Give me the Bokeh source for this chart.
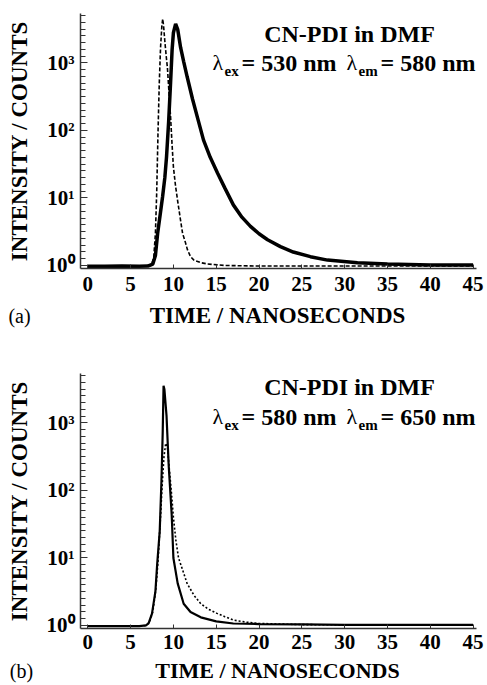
import math
from bokeh.plotting import figure
from bokeh.models import Range1d, FixedTicker, Label
from bokeh.layouts import column
from bokeh.embed import file_html
from bokeh.resources import INLINE

# ---------------- data ----------------
# Panel (a): emission decay (solid) and instrument response (dashed)
t_em_a = [0, 2, 4, 6, 7.0, 7.6, 7.9, 8.16, 8.45, 8.74, 9.0, 9.2, 9.44, 9.67, 9.85, 10.0,
          10.26, 10.5, 10.84, 11.2, 11.6, 12.24, 12.9, 13.52, 14.3, 15.15, 16.0, 17.0,
          18.0, 19.0, 20.0, 21.0, 22.5, 24.0, 26.0, 28.0, 31.5, 35.0, 40.0, 45.0]
counts_em_a = [0.97, 0.97, 0.98, 0.97, 0.98, 1.05, 1.4, 3.0, 5.6, 10.5, 20, 41, 132, 510, 1580, 2800,
               3800, 3160, 1700, 1050, 630, 290, 141, 72, 40, 23.4, 14.1, 7.9,
               5.2, 3.8, 2.95, 2.4, 1.9, 1.58, 1.35, 1.2, 1.1, 1.05, 1.02, 1.02]
t_irf_a = [0, 3, 6, 7.4, 7.7, 7.9, 8.05, 8.2, 8.35, 8.5, 8.65, 8.75, 8.85, 9.0, 9.15, 9.3,
           9.5, 9.67, 9.85, 10.0, 10.25, 10.5, 10.8, 11.07, 11.4, 11.65, 12.0, 12.4, 13.2,
           14, 16, 20, 25, 30, 35, 40, 45]
counts_irf_a = [0.97, 0.97, 0.97, 1.0, 1.3, 3.0, 12, 90, 500, 1700, 3500, 4500, 3600, 2100, 1300, 850,
                340, 160, 60, 29, 15, 9, 5, 3, 2.2, 1.7, 1.35, 1.2, 1.1,
                1.05, 1.0, 0.98, 0.98, 0.98, 0.98, 0.98, 0.98]

# Panel (b): instrument response (solid) and emission decay (dotted)
t_irf_b = [0, 3, 6, 6.8, 7.1, 7.5, 7.9, 8.1, 8.4, 8.6, 8.75, 8.85, 8.95, 9.2, 9.45, 9.8,
           10.0, 10.5, 11.2, 12.0, 13.2, 15, 17, 20, 25, 30, 35, 40, 45]
counts_irf_b = [0.98, 0.98, 0.98, 1.0, 1.07, 1.5, 3.2, 7.9, 24.5, 132, 708, 3550, 3160, 1260, 234, 44,
                10, 4.2, 2.1, 1.58, 1.32, 1.15, 1.07, 1.05, 1.04, 1.02, 1.02, 1.02, 1.02]
t_em_b = [0, 3, 6, 6.8, 7.2, 7.6, 7.95, 8.2, 8.45, 8.7, 8.9, 9.1, 9.3, 9.5, 9.75, 10.0,
          10.3, 10.6, 11.0, 11.6, 12.4, 13.2, 14.1, 15.1, 16, 17, 18.5, 20, 25, 30, 35, 40, 45]
counts_em_b = [0.98, 0.98, 0.98, 1.0, 1.12, 1.6, 3.5, 8.9, 32, 126, 316, 500, 450, 224, 100, 40,
               17.8, 10, 7.1, 4.2, 2.8, 2.1, 1.74, 1.51, 1.35, 1.2, 1.12, 1.07, 1.03, 1.02, 1.02, 1.02, 1.02]

x_ticks = [0, 5, 10, 15, 20, 25, 30, 35, 40, 45]
y_major = [1, 10, 100, 1000]
y_labels = ["10\u2070", "10\u00b9", "10\u00b2", "10\u00b3"]
x_label = "TIME / NANOSECONDS"
y_label = "INTENSITY / COUNTS"
title_line1 = "CN-PDI in DMF"
panel_a = {"tag": "(a)", "ex": "= 530 nm", "em": "= 580 nm"}
panel_b = {"tag": "(b)", "ex": "= 580 nm", "em": "= 650 nm"}

# ---------------- layout constants ----------------
W = 487
X0, X1 = -0.85, 45.4
LOG0, LOG1 = -0.045, 3.733
FRAME_W, FRAME_H = 396, 255
PX_PER_NS = FRAME_W / (X1 - X0)
PX_PER_DEC = FRAME_H / (LOG1 - LOG0)
FRAME_LEFT = 80
SERIF = "Liberation Serif"


def px2x(px):
    return X0 + (px - FRAME_LEFT) / PX_PER_NS


def px2y(py, frame_top):
    return 10 ** (LOG1 - (py - frame_top) / PX_PER_DEC)


def add_text(p, x, y, text, size, style="bold", angle=0.0, align="left", font=SERIF):
    p.add_layout(Label(x=x, y=y, text=text, text_font=font, text_font_size=f"{size}px",
                       text_font_style=style, angle=angle, text_align=align,
                       text_baseline="middle", text_color="black"))


def make_panel(height, border_top, frame_top, info, curves, xstandoff):
    border_bottom = height - border_top - FRAME_H
    p = figure(width=W, height=height, output_backend="svg", toolbar_location=None,
               y_axis_type="log", x_range=Range1d(X0, X1),
               y_range=Range1d(10 ** LOG0, 10 ** LOG1),
               min_border_left=FRAME_LEFT, min_border_right=W - FRAME_LEFT - FRAME_W,
               min_border_top=border_top, min_border_bottom=border_bottom)
    p.outline_line_color = None
    p.grid.visible = False

    xa = p.xaxis[0]
    xa.ticker = FixedTicker(ticks=x_ticks)
    xa.major_tick_in = 4
    xa.major_tick_out = 0
    xa.minor_tick_line_color = None
    xa.axis_line_color = "#333333"
    xa.axis_line_width = 1.5
    xa.major_tick_line_color = "#333333"
    xa.major_label_text_font = SERIF
    xa.major_label_text_font_style = "bold"
    xa.major_label_text_font_size = "21px"
    xa.major_label_text_color = "black"
    xa.major_label_standoff = xstandoff

    ya = p.yaxis[0]
    minor = [10 ** (k / 10) for k in range(-1, 38) if k % 10 != 0]
    ya.ticker = FixedTicker(ticks=y_major, minor_ticks=minor)
    ya.major_label_overrides = {float(v): s for v, s in zip(y_major, y_labels)}
    ya.major_tick_in = 7
    ya.major_tick_out = 0
    ya.minor_tick_in = 5
    ya.minor_tick_out = 0
    ya.axis_line_color = "#333333"
    ya.axis_line_width = 1.5
    ya.major_tick_line_color = "#333333"
    ya.minor_tick_line_color = "#333333"
    ya.major_label_text_font = SERIF
    ya.major_label_text_font_style = "bold"
    ya.major_label_text_font_size = "21px"
    ya.major_label_text_color = "black"
    ya.major_label_standoff = 6
    ya.axis_label = y_label
    ya.axis_label_text_font = SERIF
    ya.axis_label_text_font_style = "bold"
    ya.axis_label_text_font_size = "23px"
    ya.axis_label_text_color = "black"
    ya.axis_label_standoff = 12

    for (t, c, width, dash) in curves:
        p.line(t, c, line_color="black", line_width=width, line_dash=dash)

    # title inside the frame
    add_text(p, px2x(349), px2y(frame_top + info["t1"], frame_top), title_line1, 24, align="center")
    ym = frame_top + info["t2"]
    add_text(p, px2x(212), px2y(ym, frame_top), "\u03bb", 22, style="normal")
    add_text(p, px2x(224), px2y(ym + 8, frame_top), "ex", 15)
    add_text(p, px2x(241), px2y(ym, frame_top), info["ex"], 24)
    add_text(p, px2x(346), px2y(ym, frame_top), "\u03bb", 22, style="normal")
    add_text(p, px2x(358), px2y(ym + 8, frame_top), "em", 15)
    add_text(p, px2x(380), px2y(ym, frame_top), info["em"], 24)
    return p


def make_strip(height, y_from_top, tag, tag_x, size):
    s = figure(width=W, height=height, output_backend="svg", toolbar_location=None,
               x_range=Range1d(0, W), y_range=Range1d(0, height),
               x_axis_type=None, y_axis_type=None, min_border=0, frame_align=False)
    s.outline_line_color = None
    yc = height - y_from_top
    add_text(s, 277, yc, x_label, size, align="center")
    add_text(s, tag_x, yc, tag, 20, style="normal", align="center")
    return s


panel_a.update(t1=20.5, t2=49)
panel_b.update(t1=13.5, t2=43)

p1 = make_panel(300, 13, 13, panel_a,
                [(t_em_a, counts_em_a, 3.5, "solid"), (t_irf_a, counts_irf_a, 1.6, "4 2")], 8)
s1 = make_strip(30, 15, panel_a["tag"], 19, 23)
p2 = make_panel(328, 43, 373, panel_b,
                [(t_irf_b, counts_irf_b, 2.2, "solid"), (t_em_b, counts_em_b, 1.6, "2 2")], 6)
s2 = make_strip(27, 12, panel_b["tag"], 21, 22)

layout = column(p1, s1, p2, s2, spacing=0)
open("out.html", "w").write(file_html(layout, INLINE))
